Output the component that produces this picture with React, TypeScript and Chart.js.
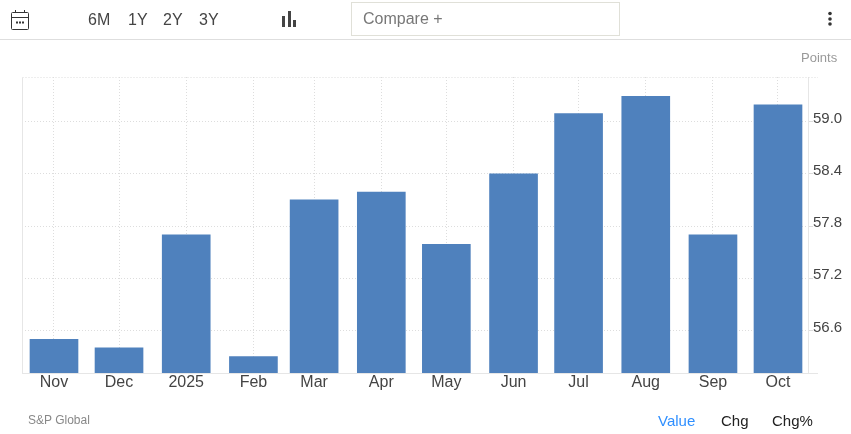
import { useEffect, useRef, type CSSProperties } from 'react';
import { Chart, registerables, type Plugin } from 'chart.js';

Chart.register(...registerables);

const monthLabels = ['Nov', 'Dec', '2025', 'Feb', 'Mar', 'Apr', 'May', 'Jun', 'Jul', 'Aug', 'Sep', 'Oct'];
// days since 1 Nov 2024, the bars sit on a date axis so the gaps differ a little
const monthDays = [0, 30, 61, 92, 120, 151, 181, 212, 242, 273, 304, 334];
const pmiValues = [56.5, 56.4, 57.7, 56.3, 58.1, 58.19, 57.59, 58.4, 59.09, 59.29, 57.7, 59.19];
const valueTicks = [56.6, 57.2, 57.8, 58.4, 59.0];
const periodButtons = ['6M', '1Y', '2Y', '3Y'];
const viewButtons = ['Value', 'Chg', 'Chg%'];

const AXIS_MIN = 56.112;
const AXIS_MAX = 59.511;
const FONT = '"Liberation Sans", Arial, sans-serif';
const LINE = '#e6e6e6';
const DOTS = '#dddddd';

// the frame: solid left and bottom, dotted top, both running past the right axis
const frameLines: Plugin<'bar'> = {
  id: 'frameLines',
  beforeDatasetsDraw(chart) {
    const { ctx, chartArea } = chart;
    const top = Math.round(chartArea.top) + 0.5;
    const bottom = Math.round(chartArea.bottom) + 0.5;
    const left = Math.round(chartArea.left) + 0.5;
    const right = chartArea.right + 10;
    ctx.save();
    ctx.lineWidth = 1;
    ctx.strokeStyle = DOTS;
    ctx.setLineDash([1, 2]);
    ctx.beginPath();
    ctx.moveTo(left, top);
    ctx.lineTo(right, top);
    ctx.stroke();
    ctx.setLineDash([]);
    ctx.strokeStyle = LINE;
    ctx.beginPath();
    ctx.moveTo(left, top);
    ctx.lineTo(left, bottom);
    ctx.moveTo(left, bottom);
    ctx.lineTo(right, bottom);
    ctx.stroke();
    ctx.restore();
  },
};

const textAt = (left: number, top: number, size: number, color: string): CSSProperties => ({
  position: 'absolute',
  left,
  top,
  fontSize: size,
  color,
  lineHeight: 1,
  whiteSpace: 'nowrap',
});

export default function App() {
  const chartRef = useRef<HTMLCanvasElement>(null);

  useEffect(() => {
    document.body.style.margin = '0';
    if (!chartRef.current) return;

    const chart = new Chart(chartRef.current, {
      type: 'bar',
      data: {
        datasets: [
          {
            data: monthDays.map((day, i) => ({ x: day, y: pmiValues[i] })),
            backgroundColor: '#4f81bd',
            barThickness: 48,
          },
        ],
      },
      plugins: [frameLines],
      options: {
        animation: false,
        responsive: false,
        layout: { padding: { left: 22, right: 0, top: 77, bottom: 0 } },
        plugins: { legend: { display: false }, tooltip: { enabled: false } },
        scales: {
          x: {
            type: 'linear',
            offset: false,
            min: -14.76,
            max: 347.84,
            afterBuildTicks: (axis) => {
              axis.ticks = monthDays.map((value) => ({ value }));
            },
            afterFit: (axis) => {
              axis.height = 61;
            },
            grid: { color: DOTS, lineWidth: 1, drawTicks: false, offset: false },
            border: { color: LINE, dash: [1, 2] },
            ticks: {
              autoSkip: false,
              maxRotation: 0,
              padding: 0,
              color: '#444444',
              font: { family: FONT, size: 16 },
              callback: (value) => monthLabels[monthDays.indexOf(Number(value))] ?? '',
            },
          },
          y: {
            position: 'right',
            min: AXIS_MIN,
            max: AXIS_MAX,
            afterBuildTicks: (axis) => {
              axis.ticks = valueTicks.map((value) => ({ value }));
            },
            afterFit: (axis) => {
              axis.width = 43;
            },
            grid: { color: DOTS, lineWidth: 1, tickLength: 5 },
            border: { color: LINE, dash: [1, 2] },
            ticks: {
              padding: 0,
              labelOffset: -3,
              color: '#444444',
              font: { family: FONT, size: 15 },
              callback: (value) => Number(value).toFixed(1),
            },
          },
        },
      },
    });

    return () => {
      chart.destroy();
    };
  }, []);

  return (
    <div style={{ position: 'relative', width: 851, height: 434, overflow: 'hidden', fontFamily: FONT, background: '#fff' }}>
      <canvas ref={chartRef} width={851} height={434} style={{ position: 'absolute', left: 0, top: 0 }} />

      <div style={{ position: 'absolute', left: 0, top: 39, width: 851, height: 1, background: '#dedede' }} />

      <svg width={20} height={22} style={{ position: 'absolute', left: 10, top: 9 }} fill="none" stroke="#333" strokeWidth={1}>
        <rect x={1.5} y={3.5} width={17} height={17} rx={1} />
        <path d="M1.5 8.5H18.5M5.5 1V3M14.5 1V3" />
        <path d="M6 13.5H14" strokeWidth={2} strokeDasharray="2 1" />
      </svg>

      {periodButtons.map((label, i) => (
        <span key={label} style={textAt([88, 128, 163, 199][i], 12, 16, '#444')}>
          {label}
        </span>
      ))}

      <svg width={16} height={18} style={{ position: 'absolute', left: 281, top: 10 }} fill="#444">
        <rect x={1} y={6} width={3} height={11} />
        <rect x={7} y={1} width={3} height={16} />
        <rect x={12} y={10} width={3} height={7} />
      </svg>

      <div style={{ position: 'absolute', left: 351, top: 2, width: 267, height: 32, border: '1px solid #e0e0d8', boxSizing: 'content-box' }} />
      <span style={textAt(363, 11, 16, '#777')}>Compare +</span>

      <svg width={6} height={16} style={{ position: 'absolute', left: 826.5, top: 11 }} fill="#333">
        <circle cx={3} cy={2.5} r={1.8} />
        <circle cx={3} cy={8} r={1.8} />
        <circle cx={3} cy={13} r={1.8} />
      </svg>

      <span style={textAt(801, 51, 13, '#999')}>Points</span>
      <span style={textAt(28, 414, 12, '#888')}>S&amp;P Global</span>

      {viewButtons.map((label, i) => (
        <span key={label} style={textAt([658, 721, 772][i], 413, 15, i === 0 ? '#2f8fff' : '#222')}>
          {label}
        </span>
      ))}
    </div>
  );
}
